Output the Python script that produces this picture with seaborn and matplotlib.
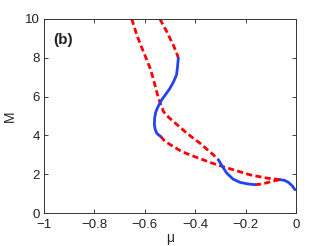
import matplotlib
matplotlib.use("Agg")
import matplotlib.pyplot as plt
import seaborn as sns

# --- curve data (mu, M) ---
# branch A: red dashed from the top, blue, red, blue down to mu=0
a_red1_mu = [-0.652, -0.642, -0.632, -0.619, -0.606, -0.592, -0.579, -0.569, -0.560, -0.546,
             -0.526, -0.507, -0.487, -0.460, -0.434, -0.408, -0.381, -0.355, -0.328, -0.308]
a_red1_M = [10.0, 9.60, 9.18, 8.75, 8.32, 7.89, 7.46, 7.03, 6.60, 5.92,
            5.23, 4.95, 4.72, 4.42, 4.12, 3.86, 3.60, 3.30, 3.00, 2.74]
a_blue1_mu = [-0.308, -0.292, -0.275, -0.250, -0.222, -0.192, -0.163]
a_blue1_M = [2.74, 2.40, 2.06, 1.75, 1.58, 1.50, 1.46]
a_red2_mu = [-0.163, -0.140, -0.116, -0.090, -0.063]
a_red2_M = [1.46, 1.49, 1.56, 1.65, 1.72]
a_blue2_mu = [-0.063, -0.045, -0.030, -0.015, -0.004]
a_blue2_M = [1.72, 1.68, 1.58, 1.40, 1.20]

# branch B: red dashed from the top, blue loop, red dashed joining branch A
b_red1_mu = [-0.540, -0.527, -0.513, -0.500, -0.487, -0.471, -0.467]
b_red1_M = [10.0, 9.68, 9.35, 9.00, 8.66, 8.15, 7.98]
b_blue_mu = [-0.467, -0.470, -0.474, -0.486, -0.500, -0.517, -0.533, -0.546, -0.556,
             -0.561, -0.562, -0.559, -0.553, -0.545, -0.537]
b_blue_M = [7.98, 7.55, 7.12, 6.76, 6.43, 6.12, 5.83, 5.52, 5.23,
            4.90, 4.55, 4.32, 4.12, 4.02, 3.95]
b_red2_mu = [-0.537, -0.520, -0.487, -0.454, -0.421, -0.381, -0.315, -0.249, -0.183, -0.116, -0.063]
b_red2_M = [3.95, 3.69, 3.43, 3.17, 3.00, 2.80, 2.49, 2.23, 1.97, 1.80, 1.72]

x_ticks = [-1, -0.8, -0.6, -0.4, -0.2, 0]
x_labels = ['\u22121', '\u22120.8', '\u22120.6', '\u22120.4', '\u22120.2', '0']
y_ticks = [0, 2, 4, 6, 8, 10]

sns.set_style("ticks")
plt.rcParams['font.family'] = ['Liberation Sans', 'DejaVu Sans']
plt.rcParams['xtick.direction'] = 'in'
plt.rcParams['ytick.direction'] = 'in'

blue = '#2343f2'
red = '#ff0000'

fig = plt.figure(figsize=(3.27, 2.46), dpi=100)
ax = fig.add_axes([0.1346, 0.134, 0.7706, 0.789])

segments = [
    (a_red1_mu, a_red1_M, red, True),
    (b_red1_mu, b_red1_M, red, True),
    (b_red2_mu, b_red2_M, red, True),
    (a_red2_mu, a_red2_M, red, True),
    (a_blue1_mu, a_blue1_M, blue, False),
    (a_blue2_mu, a_blue2_M, blue, False),
    (b_blue_mu, b_blue_M, blue, False),
]
for mu, M, col, dashed in segments:
    sns.lineplot(x=mu, y=M, sort=False, estimator=None, color=col, lw=2.0, ax=ax)
    if dashed:
        ax.lines[-1].set_dashes((2.2, 1.2))

ax.set_xlim(-1, 0)
ax.set_ylim(0, 10)
ax.set_xticks(x_ticks)
ax.set_xticklabels(x_labels)
ax.set_yticks(y_ticks)
ax.tick_params(labelsize=9.5, top=True, right=True, length=3, width=0.6, colors='#222222')
ax.tick_params(axis='x', pad=4)
ax.tick_params(axis='y', pad=3)
for s in ax.spines.values():
    s.set_linewidth(0.7)
    s.set_color('#333333')

ax.set_xlabel('\u03bc', fontsize=10, labelpad=0)
ax.set_ylabel('M', fontsize=10, labelpad=6)
ax.text(-0.965, 8.92, '(b)', fontsize=11, fontweight='bold', va='center')

fig.savefig('out.png', dpi=100)
